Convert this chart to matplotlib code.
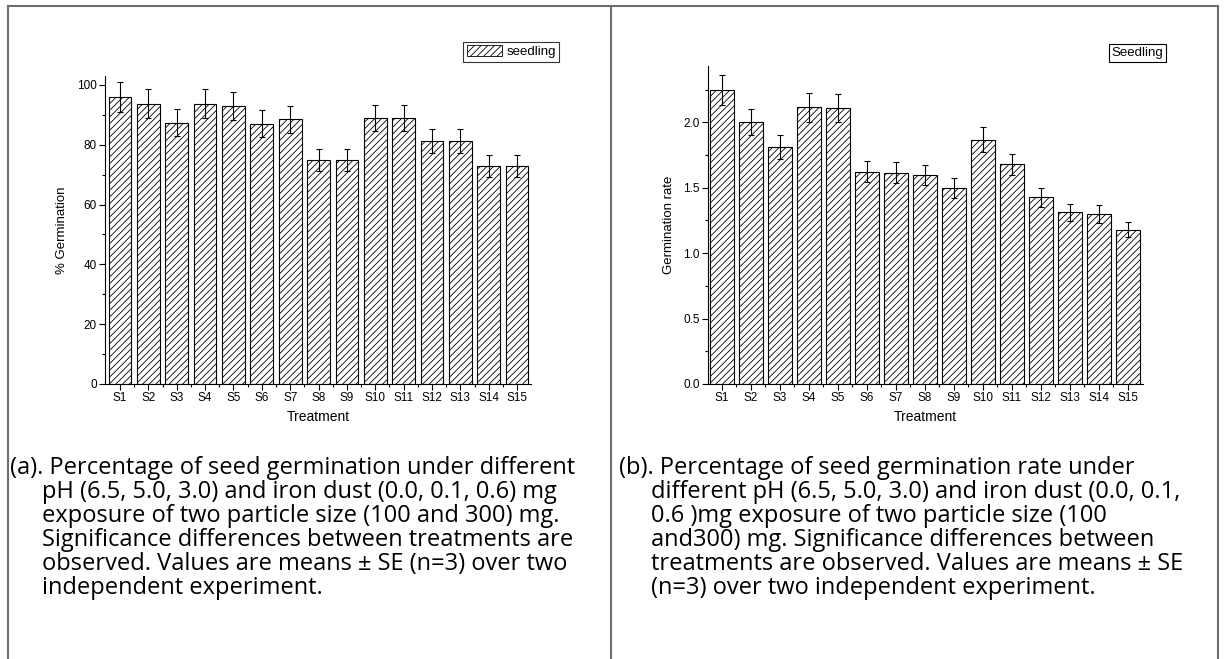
import numpy as np
import matplotlib
matplotlib.use('Agg')
import matplotlib.pyplot as plt
from matplotlib.lines import Line2D
from matplotlib.patches import Patch

# dados
tratamentos = ['S1', 'S2', 'S3', 'S4', 'S5', 'S6', 'S7', 'S8', 'S9', 'S10',
               'S11', 'S12', 'S13', 'S14', 'S15']
germ = [96.0, 93.8, 87.4, 93.8, 92.9, 87.1, 88.5, 74.9, 74.9, 89.0,
        89.0, 81.3, 81.3, 72.9, 72.9]
germ_se = [4.9, 4.9, 4.4, 4.9, 4.6, 4.4, 4.4, 3.8, 3.8, 4.4,
           4.4, 4.1, 4.1, 3.8, 3.8]
taxa = [2.247, 2.005, 1.809, 2.115, 2.107, 1.623, 1.615, 1.597, 1.498, 1.867,
        1.679, 1.427, 1.312, 1.299, 1.180]
taxa_se = [0.115, 0.10, 0.09, 0.11, 0.107, 0.08, 0.08, 0.08, 0.074, 0.094,
           0.08, 0.073, 0.064, 0.066, 0.058]

legenda_a = 'seedling'
legenda_b = 'Seedling'

legenda_a_txt = ['(a). Percentage of seed germination under different',
                 'pH (6.5, 5.0, 3.0) and iron dust (0.0, 0.1, 0.6) mg',
                 'exposure of two particle size (100 and 300) mg.',
                 'Significance differences between treatments are',
                 'observed. Values are means \u00b1 SE (n=3) over two',
                 'independent experiment.']
legenda_b_txt = ['(b). Percentage of seed germination rate under',
                 'different pH (6.5, 5.0, 3.0) and iron dust (0.0, 0.1,',
                 '0.6 )mg exposure of two particle size (100',
                 'and300) mg. Significance differences between',
                 'treatments are observed. Values are means \u00b1 SE',
                 '(n=3) over two independent experiment.']

plt.rcParams['font.family'] = ['Liberation Sans', 'DejaVu Sans']
plt.rcParams['hatch.linewidth'] = 0.6

W, H = 1225, 659
fig = plt.figure(figsize=(W/100, H/100), dpi=100)

def px(x0, y0, x1, y1):
  return [x0/W, 1-y1/H, (x1-x0)/W, (y1-y0)/H]

def painel(ax, vals, err, ylim, major, minor, xlim, ylabel):
  x = np.arange(1, len(vals)+1)
  ax.bar(x, vals, width=0.8, color='white', edgecolor='black', linewidth=0.8,
         hatch='/////', zorder=2)
  ax.errorbar(x, vals, yerr=err, fmt='none', ecolor='black', elinewidth=0.8,
              capsize=2.5, capthick=0.8, zorder=3)
  ax.set_xlim(*xlim)
  ax.set_ylim(*ylim)
  ax.set_xticks(x)
  ax.set_xticklabels(tratamentos)
  ax.set_xticks(x[:-1]+0.5, minor=True)
  ax.set_yticks(major)
  ax.set_yticks(minor, minor=True)
  ax.spines['top'].set_visible(False)
  ax.spines['right'].set_visible(False)
  ax.spines['left'].set_linewidth(0.8)
  ax.spines['bottom'].set_linewidth(0.8)
  ax.tick_params(which='major', direction='out', length=4, width=0.8, labelsize=8.5, pad=2)
  ax.tick_params(which='minor', direction='out', length=2, width=0.8)
  ax.set_xlabel('Treatment', fontsize=10, labelpad=4)
  ax.set_ylabel(ylabel, fontsize=9.5, labelpad=6)

ax1 = fig.add_axes(px(105, 76, 531, 384))
painel(ax1, germ, germ_se, (0, 103), [0, 20, 40, 60, 80, 100],
       [10, 30, 50, 70, 90], (0.47, 15.49), '% Germination')
leg = ax1.legend([Patch(facecolor='white', edgecolor='black', hatch='/////', linewidth=0.6)],
                 [legenda_a], loc='upper right', bbox_to_anchor=(559/W, 1-42/H),
                 bbox_transform=fig.transFigure, fontsize=9.5, frameon=True,
                 fancybox=False, edgecolor='black', handlelength=2.7, handleheight=0.9,
                 handletextpad=0.3, borderpad=0.25, borderaxespad=0)
leg.get_frame().set_linewidth(0.8)

ax2 = fig.add_axes(px(708, 66, 1143, 384))
painel(ax2, taxa, taxa_se, (0, 2.43), [0.0, 0.5, 1.0, 1.5, 2.0],
       [0.25, 0.75, 1.25, 1.75, 2.25], (0.52, 15.52), 'Germination rate')
ax2.set_yticklabels(['0.0', '0.5', '1.0', '1.5', '2.0'])
fig.text(1163/W, 1-53/H, legenda_b, ha='right', va='center', fontsize=9.5,
         bbox=dict(boxstyle='square,pad=0.2', facecolor='white', edgecolor='black', linewidth=0.8))

# moldura da tabela
cor = '#6e6e6e'
for xs, ys in [((8, 1218), (6, 6)), ((8, 8), (6, 659)), ((611, 611), (6, 659)),
               ((1218, 1218), (6, 659))]:
  fig.add_artist(Line2D([xs[0]/W, xs[1]/W], [1-ys[0]/H, 1-ys[1]/H], color=cor, lw=1.5))

# legendas de texto
for i, linha in enumerate(legenda_a_txt):
  x0 = 10 if i == 0 else 42
  fig.text(x0/W, 1-(468+24*i)/H, linha, ha='left', va='center', fontsize=17,
           family=['Open Sans', 'DejaVu Sans'])
for i, linha in enumerate(legenda_b_txt):
  x0 = 619 if i == 0 else 651
  fig.text(x0/W, 1-(468+24*i)/H, linha, ha='left', va='center', fontsize=17,
           family=['Open Sans', 'DejaVu Sans'])

fig.savefig('out.png', dpi=100)
